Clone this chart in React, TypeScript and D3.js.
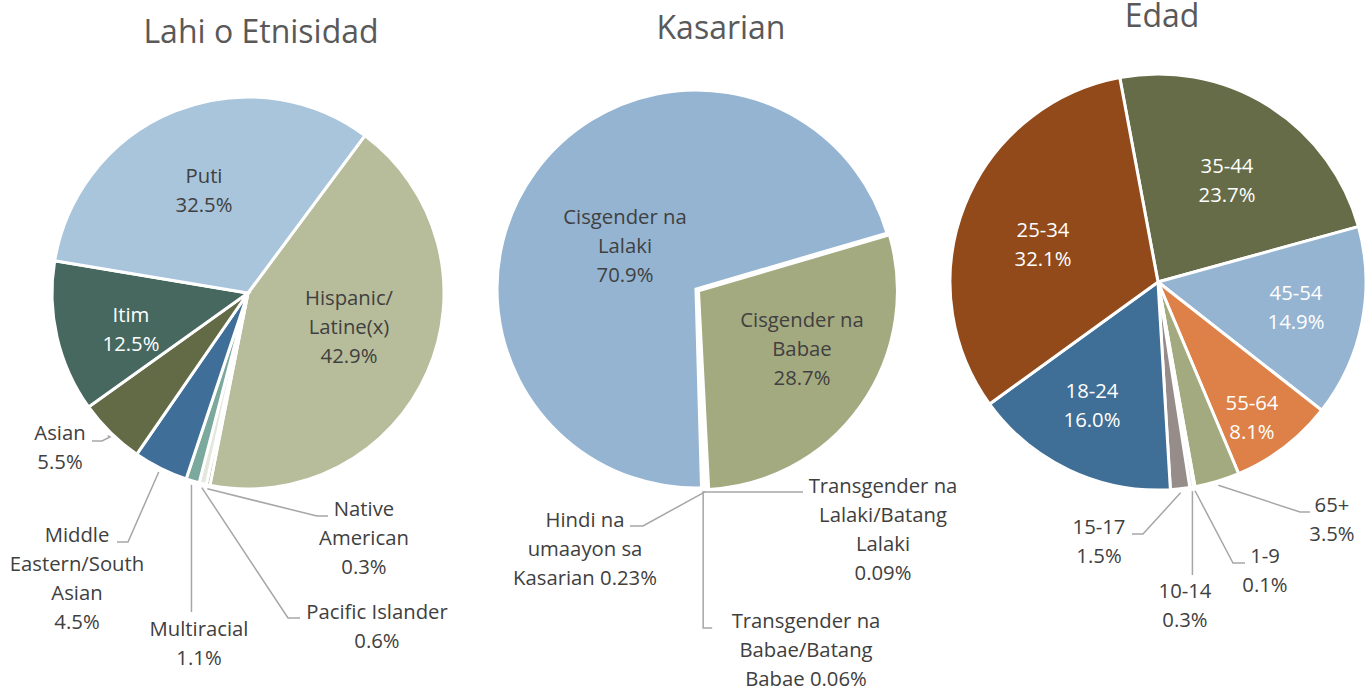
import React from "react";
import * as d3 from "d3";

// ---------- DATA ----------
const ethLabels = [
  ["Hispanic/", "Latine(x)"],
  ["Native", "American"],
  ["Pacific Islander"],
  ["Multiracial"],
  ["Middle", "Eastern/South", "Asian"],
  ["Asian"],
  ["Itim"],
  ["Puti"],
];
const ethValues = [42.9, 0.3, 0.6, 1.1, 4.5, 5.5, 12.5, 32.5];
const ethPctText = ["42.9%", "0.3%", "0.6%", "1.1%", "4.5%", "5.5%", "12.5%", "32.5%"];

const genLabels = [
  ["Cisgender na", "Babae"],
  ["Hindi na", "umaayon sa", "Kasarian"],
  ["Transgender na", "Babae/Batang", "Babae"],
  ["Transgender na", "Lalaki/Batang", "Lalaki"],
  ["Cisgender na", "Lalaki"],
];
const genValues = [28.7, 0.23, 0.06, 0.09, 70.9];
const genPctText = ["28.7%", "0.23%", "0.06%", "0.09%", "70.9%"];

const ageLabels = ["35-44", "45-54", "55-64", "65+", "1-9", "10-14", "15-17", "18-24", "25-34"];
const ageValues = [23.7, 14.9, 8.1, 3.5, 0.1, 0.3, 1.5, 16.0, 32.1];
const agePctText = ["23.7%", "14.9%", "8.1%", "3.5%", "0.1%", "0.3%", "1.5%", "16.0%", "32.1%"];

const titles = ["Lahi o Etnisidad", "Kasarian", "Edad"];

// ---------- STYLE / LAYOUT ----------
const ethColors = ["#B7BD9B", "#A5A97F", "#E4E7DC", "#7BA99D", "#3F6F98", "#636B46", "#46685F", "#A9C5DC"];
const genColors = ["#A4AA80", "#D8DEE6", "#E0E0E0", "#E6E6E6", "#94B4D2"];
const ageColors = ["#656C47", "#95B4D2", "#DD8148", "#A3AA7F", "#E8E8E8", "#E0E0E0", "#968C8A", "#3F6F97", "#924A1B"];

const FONT = "'Open Sans', Lato, sans-serif";
const LABEL_SIZE = 20.3;
const TITLE_SIZE = 32;
const LINE_H = 29;
const DARK = "#404040";
const LEADER = "#A6A6A6";

type LabelSpec = {
  inside: boolean;
  color?: string;
  x: number; // text center, relative to pie center
  y: number; // first baseline, relative to pie center
  pctSameLine?: boolean;
  leader?: [number, number][]; // points after start, relative to pie center
  leaderVertical?: boolean;
};

type PieSpec = {
  title: string;
  titleX: number;
  titleY: number;
  cx: number;
  cy: number;
  r: number;
  startDeg: number;
  stroke: number;
  values: number[];
  labels: string[][];
  pct: string[];
  colors: string[];
  layout: LabelSpec[];
  explode?: number[];
};

const ethLayout: LabelSpec[] = [
  { inside: true, color: DARK, x: 101, y: 12 },
  { inside: false, x: 116, y: 223, leader: [[69, 223], [80, 223]] },
  { inside: false, x: 129, y: 326, leader: [[40, 325], [52, 325]] },
  { inside: false, x: -49, y: 343, leader: [[-55, 319]], leaderVertical: true },
  { inside: false, x: -171, y: 249, leader: [[-120, 249], [-131, 249]] },
  { inside: false, x: -188, y: 147, leader: [[-138, 144], [-146, 148], [-156, 148]] },
  { inside: true, color: "#FFFFFF", x: -117, y: 29 },
  { inside: true, color: DARK, x: -44, y: -110 },
];

const genLayout: LabelSpec[] = [
  { inside: true, color: DARK, x: 106, y: 38 },
  { inside: false, x: -111, y: 238, pctSameLine: true, leader: [[-53, 237], [-66, 237]] },
  { inside: false, x: 110, y: 339, pctSameLine: true, leader: [[11, 339], [20, 339]], leaderVertical: true },
  { inside: false, x: 187, y: 204, leader: [[107, 203]] },
  { inside: true, color: DARK, x: -71, y: -65 },
];

const ageLayout: LabelSpec[] = [
  { inside: true, color: "#FFFFFF", x: 69, y: -109 },
  { inside: true, color: "#FFFFFF", x: 138, y: 18 },
  { inside: true, color: "#FFFFFF", x: 94, y: 128 },
  { inside: false, x: 174, y: 230, leader: [[142, 230], [152, 230]] },
  { inside: false, x: 107, y: 281, leader: [[75, 281], [87, 281]] },
  { inside: false, x: 27, y: 316, leader: [[31, 293]], leaderVertical: true },
  { inside: false, x: -59, y: 252, leader: [[-15, 252], [-26, 252]] },
  { inside: true, color: "#FFFFFF", x: -66, y: 116 },
  { inside: true, color: "#FFFFFF", x: -115, y: -45 },
];

const pies: PieSpec[] = [
  {
    title: titles[0], titleX: 261, titleY: 43,
    cx: 248, cy: 293, r: 196, startDeg: 36.6, stroke: 3,
    values: ethValues, labels: ethLabels, pct: ethPctText, colors: ethColors, layout: ethLayout,
  },
  {
    title: titles[1], titleX: 721, titleY: 39,
    cx: 696, cy: 289, r: 199, startDeg: 73.7, stroke: 3,
    values: genValues, labels: genLabels, pct: genPctText, colors: genColors, layout: genLayout,
    explode: [3, 0, 0, 0, 0],
  },
  {
    title: titles[2], titleX: 1162, titleY: 27,
    cx: 1158, cy: 282, r: 208, startDeg: -10.6, stroke: 3,
    values: ageValues, labels: ageLabels.map((l) => [l]), pct: agePctText, colors: ageColors, layout: ageLayout,
  },
];

const rad = (d: number) => (d * Math.PI) / 180;

function Pie({ spec }: { spec: PieSpec }) {
  const start = rad(spec.startDeg);
  const arcs = d3
    .pie<number>()
    .sort(null)
    .value((d) => d)
    .startAngle(start)
    .endAngle(start + 2 * Math.PI)(spec.values);
  const arcGen = d3.arc<d3.PieArcDatum<number>>().innerRadius(0).outerRadius(spec.r);
  const line = d3.line();

  return (
    <g transform={`translate(${spec.cx},${spec.cy})`}>
      {arcs.map((a, i) => {
        const mid = (a.startAngle + a.endAngle) / 2;
        const ex = (spec.explode?.[i] ?? 0);
        const tx = Math.sin(mid) * ex;
        const ty = -Math.cos(mid) * ex;
        return (
          <path
            key={"s" + i}
            d={arcGen(a) || ""}
            transform={`translate(${tx},${ty})`}
            fill={spec.colors[i]}
            stroke="#FFFFFF"
            strokeWidth={spec.stroke}
            strokeLinejoin="miter"
          />
        );
      })}
      {arcs.map((a, i) => {
        const L = spec.layout[i];
        const mid = (a.startAngle + a.endAngle) / 2;
        const lines = L.pctSameLine
          ? [...spec.labels[i].slice(0, -1), spec.labels[i][spec.labels[i].length - 1] + " " + spec.pct[i]]
          : [...spec.labels[i], spec.pct[i]];
        let leaderPath: string | null = null;
        if (!L.inside && L.leader) {
          const sr = spec.r + 4;
          const s: [number, number] = [Math.sin(mid) * sr, -Math.cos(mid) * sr];
          let pts: [number, number][] = [s, ...L.leader];
          if (L.leaderVertical) {
            const p = L.leader;
            pts = [s, [s[0], p[0][1]]];
            if (p.length > 1) pts.push([s[0] + (p[1][0] - p[0][0]), p[0][1]]);
          }
          leaderPath = line(pts);
        }
        return (
          <g key={"l" + i}>
            {leaderPath && (
              <path d={leaderPath} fill="none" stroke={LEADER} strokeWidth={1.5} />
            )}
            <text
              x={L.x}
              y={L.y}
              textAnchor="middle"
              fontFamily={FONT}
              fontSize={LABEL_SIZE}
              fill={L.color ?? DARK}
            >
              {lines.map((t, k) => (
                <tspan key={k} x={L.x} y={L.y + k * LINE_H}>
                  {t}
                </tspan>
              ))}
            </text>
          </g>
        );
      })}
    </g>
  );
}

export default function App() {
  return (
    <svg
      width={1372}
      height={691}
      style={{ position: "absolute", left: 0, top: 0, background: "#FFFFFF" }}
    >
      <rect width={1372} height={691} fill="#FFFFFF" />
      {pies.map((p, i) => (
        <g key={i}>
          <Pie spec={p} />
          <text
            x={p.titleX}
            y={p.titleY}
            textAnchor="middle"
            fontFamily={FONT}
            fontSize={TITLE_SIZE}
            fill="#595959"
          >
            {p.title}
          </text>
        </g>
      ))}
    </svg>
  );
}
